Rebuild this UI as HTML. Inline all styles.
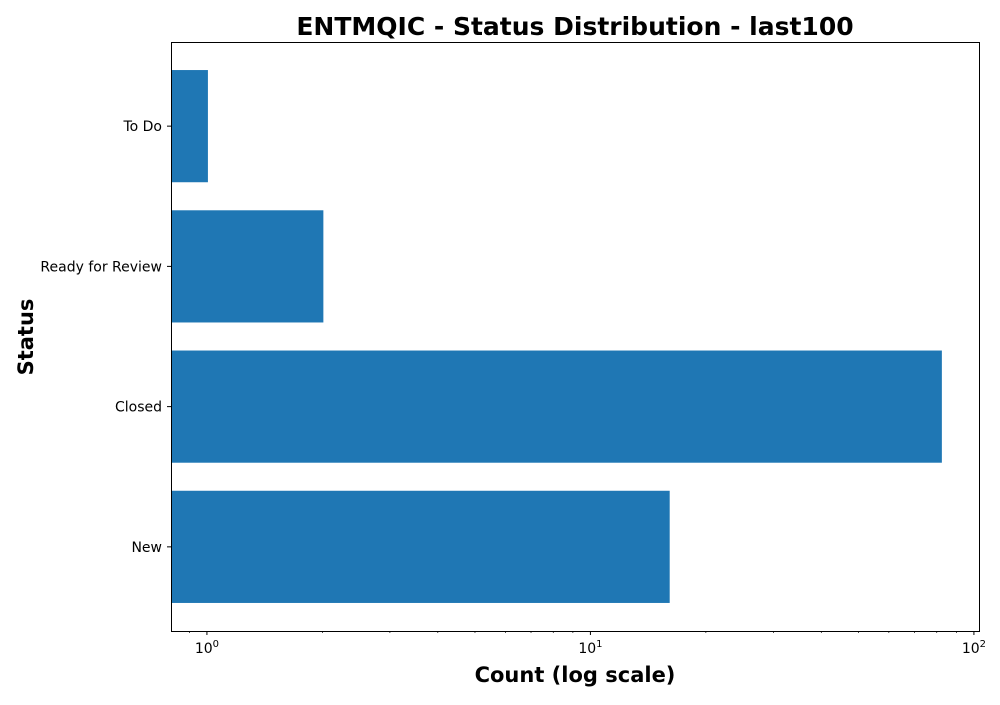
<!DOCTYPE html>
<html><head><meta charset="utf-8"><style>
html,body{margin:0;padding:0;background:#fff;}
svg text{font-family:"DejaVu Sans","Liberation Sans",sans-serif;}
</style></head><body>
<svg id="chart" width="1000" height="700" xmlns="http://www.w3.org/2000/svg">
<text x="575" y="35" text-anchor="middle" font-size="25" font-weight="bold">ENTMQIC - Status Distribution - last100</text>
<text x="575" y="682" text-anchor="middle" font-size="21" font-weight="bold">Count (log scale)</text>
<text transform="translate(33,337) rotate(-90)" text-anchor="middle" font-size="21" font-weight="bold">Status</text>
<g id="bars"></g><g id="ticks"></g>
<rect x="171.5" y="42.5" width="808" height="589" fill="none" stroke="#000" stroke-width="1"/>
</svg>
<script>
const categories=["New","Closed","Ready for Review","To Do"];
const counts=[16,82,2,1];
const xTickExps=[0,1,2];
const L=171,R=979,T=42,B=631;
const lmin=Math.log10(0.806),lmax=Math.log10(103.1);
const xs=v=>L+(Math.log10(v)-lmin)/(lmax-lmin)*(R-L);
const ys=i=>B-(i+0.6)/4.2*(B-T);
const NS="http://www.w3.org/2000/svg";
const bars=document.getElementById('bars'),ticks=document.getElementById('ticks');
function mk(tag,attrs,parent){const e=document.createElementNS(NS,tag);for(const k in attrs)e.setAttribute(k,attrs[k]);parent.appendChild(e);return e;}
const bh=0.8/4.2*(B-T);
categories.forEach((c,i)=>{
 const r=mk('rect',{x:L,y:ys(i)-bh/2,width:xs(counts[i])-L+1,height:bh,fill:'#1f77b4'},bars);
 
 
 const tk=mk('line',{x1:L-4,x2:L,y1:ys(i),y2:ys(i),stroke:'#000'},ticks);
 
 
 const t=mk('text',{x:L-9,y:ys(i)+5,'text-anchor':'end','font-size':'14'},ticks);
 t.textContent=c;
 
 
});
for(let d=-1;d<=2;d++){for(let m=1;m<10;m++){const v=m*Math.pow(10,d);const x=xs(v);if(x<L||x>R)continue;
 const major=m===1;
 const l=mk('line',{x1:x,x2:x,y1:B,y2:B+(major?4:2),stroke:'#000','stroke-width':major?1:0.7},ticks);
 
 }}
xTickExps.forEach(e=>{
 const t=mk('text',{x:xs(Math.pow(10,e)),y:B+22,'text-anchor':'middle','font-size':'14'},ticks);
 t.innerHTML='10<tspan dy="-6" font-size="10">'+e+'</tspan>';
 
 
});
</script>
</body></html>
